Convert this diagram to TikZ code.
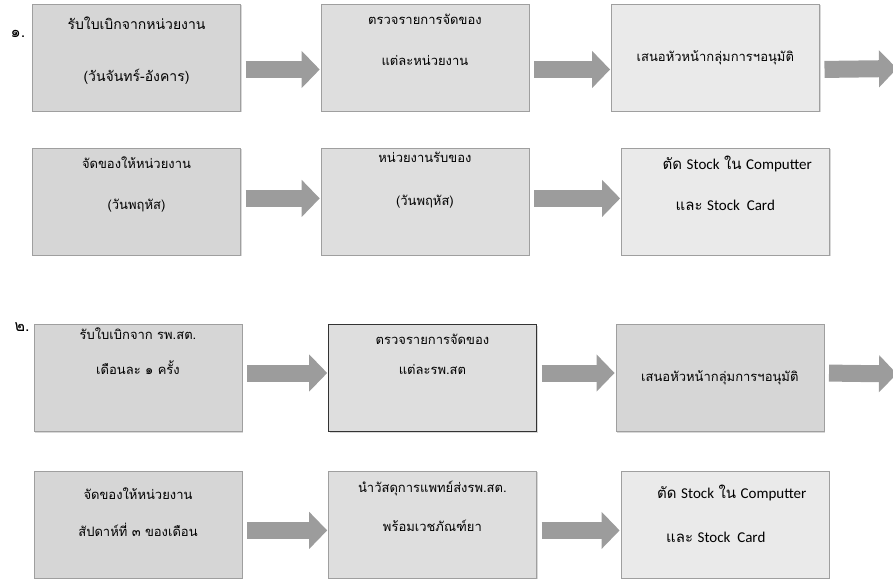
\documentclass[tikz,border=0pt]{standalone}
\usepackage{fontspec}
\newfontfamily\thaifont[Script=Thai]{Loma}
\newfontfamily\latinfont{Carlito}
\usetikzlibrary{positioning,arrows.meta,shadows}

\definecolor{boxdark}{HTML}{D6D6D6}
\definecolor{boxmid}{HTML}{DEDEDE}
\definecolor{boxlight}{HTML}{EAEAEA}
\definecolor{arrowgray}{HTML}{9C9C9C}

\newcommand{\entext}[1]{{\latinfont #1}}

\begin{document}
\begin{tikzpicture}[x=1pt,y=-1pt,
    stepbox/.style={rectangle, draw=gray!75, fill=boxmid, minimum width=208pt, minimum height=107pt,
        inner sep=2pt, align=center, font=\thaifont\fontsize{13}{15}\selectfont,
        drop shadow={shadow xshift=1.2pt, shadow yshift=-1.5pt, fill=gray!60, opacity=0.5}},
    twoline/.style={text depth=#1},
    twoline/.default=36pt,
    blockarrow/.style={arrowgray, line width=17pt, -{Triangle[length=18pt,width=36pt]},
        shorten <=5pt, shorten >=1pt},
    numlabel/.style={font=\thaifont\fontsize{16}{18}\selectfont}]

    \useasboundingbox (0,0) rectangle (893,580);

    % row 1
    \node[stepbox, twoline=17pt, fill=boxdark, font=\thaifont\fontsize{14}{16}\selectfont] (a1) at (136.5,57.5)
        {รับใบเบิกจากหน่วยงาน \\[36pt] (วันจันทร์-อังคาร)};
    \node[stepbox, twoline] (b1) [right=80pt of a1] {ตรวจรายการจัดของ \\[26pt] แต่ละหน่วยงาน};
    \node[stepbox, fill=boxlight] (c1) [right=82pt of b1] {เสนอหัวหน้ากลุ่มการฯอนุมัติ};
    \coordinate (out1) at (898,68.5);
    \node[numlabel] (lbl1) at (18,34) {๑.};

    % row 2
    \node[stepbox, twoline, fill=boxdark] (a2) [below=36.5pt of a1] {จัดของให้หน่วยงาน \\[26pt] (วันพฤหัส)};
    \node[stepbox, twoline=45pt] (b2) [right=80pt of a2] {หน่วยงานรับของ \\[28pt] (วันพฤหัส)};
    \node[stepbox, twoline, fill=boxlight, font=\fontsize{15}{17}\selectfont] (c2) [right=92pt of b2]
        {\hspace*{24pt}{\thaifont ตัด} \entext{Stock} {\thaifont ใน} \entext{Computter} \\[24pt] {\thaifont และ}\ \entext{Stock\ \ Card}};

    % row 3
    \node[stepbox, twoline=54pt, fill=boxdark] (a3) at (138,378) {รับใบเบิกจาก รพ.สต. \\[20pt] เดือนละ ๑ ครั้ง};
    \node[stepbox, twoline=47pt, draw=black!80] (b3) [right=86pt of a3] {ตรวจรายการจัดของ \\[15pt] แต่ละรพ.สต};
    \node[stepbox, fill=boxdark] (c3) [right=79pt of b3] {เสนอหัวหน้ากลุ่มการฯอนุมัติ};
    \coordinate (out3) at (898,374);
    \node[numlabel] (lbl2) at (22,327) {๒.};

    % row 4
    \node[stepbox, twoline=24pt, fill=boxdark] (a4) [below=39pt of a3] {จัดของให้หน่วยงาน \\[22pt] สัปดาห์ที่ ๓ ของเดือน};
    \node[stepbox, twoline] (b4) [right=86pt of a4] {นำวัสดุการแพทย์ส่งรพ.สต. \\[24pt] พร้อมเวชภัณฑ์ยา};
    \node[stepbox, twoline=21pt, fill=boxlight, font=\fontsize{15}{17}\selectfont] (c4) [right=84pt of b4]
        {\hspace*{14pt}{\thaifont ตัด} \entext{Stock} {\thaifont ใน}\ \entext{Computter} \\[27pt] {\thaifont และ}\ \entext{Stock\ \ Card}\hspace*{18pt}};

    \path[blockarrow]
        ([yshift=-12pt]a1.east) edge ([yshift=-12pt]b1.west)
        ([yshift=-12pt]b1.east) edge ([yshift=-12pt]c1.west)
        ([yshift=-12pt]c1.east) edge (out1)
        ([yshift=3pt]a2.east) edge ([yshift=3pt]b2.west)
        ([yshift=3pt]b2.east) edge ([yshift=3pt]c2.west)
        ([yshift=5pt]a3.east) edge ([yshift=5pt]b3.west)
        ([yshift=5pt]b3.east) edge ([yshift=5pt]c3.west)
        ([yshift=5pt]c3.east) edge (out3)
        ([yshift=-6pt]a4.east) edge ([yshift=-6pt]b4.west)
        ([yshift=-6pt]b4.east) edge ([yshift=-6pt]c4.west)
    ;
\end{tikzpicture}
\end{document}
